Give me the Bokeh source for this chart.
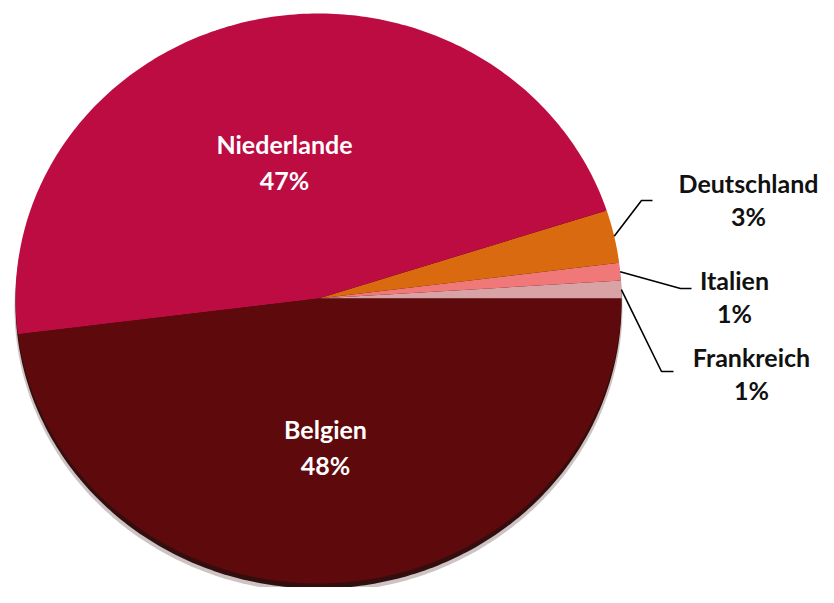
import numpy as np
from bokeh.plotting import figure
from bokeh.models import Range1d
from bokeh.core.properties import value
from bokeh.embed import file_html
from bokeh.resources import INLINE

# Data
countries = ["Frankreich", "Italien", "Deutschland", "Niederlande", "Belgien"]
shares = [1, 1, 3, 47, 48]
labels = ["1%", "1%", "3%", "47%", "48%"]
colors = ["#D9A3A6", "#F07878", "#DA6A10", "#BC0C42", "#5E090B"]

# Layout (screen-pixel coordinates)
W, H = 818, 587
cx, cy = 318.0, 298.0
rx, ry = 303.0, 285.0
FONT = "Lato"
FS = "25px"

p = figure(width=W, height=H, output_backend="svg", toolbar_location=None,
           x_range=Range1d(0, W), y_range=Range1d(H, 0),
           min_border=0)
p.axis.visible = False
p.grid.visible = False
p.outline_line_color = None
p.background_fill_color = "white"
p.border_fill_color = "white"

# shadow / 3D edge
t = np.linspace(0, 2 * np.pi, 400)
p.patch(cx + (rx + 1) * np.cos(t), cy + 9 + ry * np.sin(t), fill_color="#3A1010",
        line_color=None, fill_alpha=0.25)
p.patch(cx + rx * np.cos(t), cy + 5 + ry * np.sin(t), fill_color="#2A0404",
        line_color=None, fill_alpha=0.95)

total = float(sum(shares))
angles = np.cumsum([0] + [s / total * 2 * np.pi for s in shares])
mids = []
for i, name in enumerate(countries):
    a0, a1 = angles[i], angles[i + 1]
    th = np.linspace(a0, a1, 200)
    xs = np.concatenate([[cx], cx + rx * np.cos(th), [cx]])
    ys = np.concatenate([[cy], cy - ry * np.sin(th), [cy]])
    p.patch(xs, ys, fill_color=colors[i], line_color=None)
    mids.append((a0 + a1) / 2)

# inside labels
inside = {"Niederlande": (284, 143, 179), "Belgien": (325, 428, 464)}
for name, (tx, ty1, ty2) in inside.items():
    i = countries.index(name)
    p.text(x=[tx, tx], y=[ty1, ty2], text=[name, labels[i]], text_color="white",
           text_font=value(FONT), text_font_style="bold", text_font_size=FS,
           text_align="center", text_baseline="middle")

# outside labels with leader lines
outside = {
    "Deutschland": dict(elbow=(641, 200), end=652, tx=748, ty1=182, ty2=215),
    "Italien": dict(elbow=(680, 288), end=691, tx=734, ty1=279, ty2=312),
    "Frankreich": dict(elbow=(661, 371), end=673, tx=751, ty1=356, ty2=389),
}
for name, o in outside.items():
    i = countries.index(name)
    m = mids[i]
    sx, sy = cx + rx * np.cos(m), cy - ry * np.sin(m)
    ex, ey = o["elbow"]
    p.line([sx, ex, o["end"]], [sy, ey, ey], line_color="black", line_width=1.6)
    p.text(x=[o["tx"], o["tx"]], y=[o["ty1"], o["ty2"]], text=[name, labels[i]],
           text_color="#111111", text_font=value(FONT), text_font_style="bold",
           text_font_size=FS, text_align="center", text_baseline="middle")

open("out.html", "w").write(file_html(p, INLINE))
